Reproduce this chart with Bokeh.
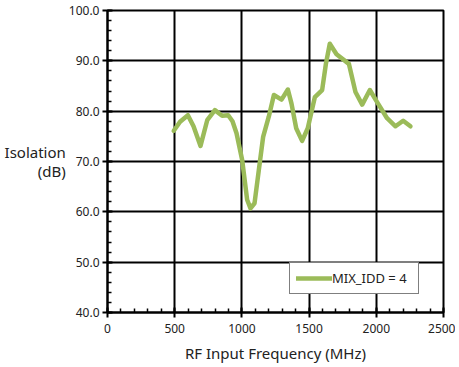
from bokeh.plotting import figure
from bokeh.models import Range1d, FixedTicker, NumeralTickFormatter, Legend, LegendItem
from bokeh.embed import file_html
from bokeh.resources import INLINE

freq = [493, 540, 598, 640, 692, 742, 799, 853, 898, 930, 960, 1002, 1039, 1064, 1094,
        1126, 1158, 1200, 1238, 1295, 1342, 1369, 1404, 1448, 1490, 1543, 1597, 1625,
        1654, 1704, 1796, 1845, 1895, 1952, 2006, 2080, 2143, 2200, 2254]
isolation = [76.1, 77.9, 79.2, 77.0, 73.1, 78.2, 80.2, 79.1, 79.2, 78.0, 75.6, 70.3, 62.4,
             60.7, 61.7, 68.3, 74.9, 78.9, 83.2, 82.3, 84.3, 81.5, 76.6, 74.1, 76.6, 82.8,
             84.2, 89.4, 93.4, 91.3, 89.4, 83.8, 81.3, 84.2, 81.8, 78.6, 77.0, 78.1, 77.0]
x_ticks = [0, 500, 1000, 1500, 2000, 2500]
y_ticks = [40, 50, 60, 70, 80, 90, 100]
series_name = "MIX_IDD = 4"

FONT = "Noto Sans"
p = figure(width=455, height=365, output_backend="svg", toolbar_location=None,
           x_range=Range1d(0, 2500), y_range=Range1d(40, 100),
           min_border_left=107, min_border_right=12, min_border_top=10, min_border_bottom=52)
p.background_fill_color = "white"
p.border_fill_color = "white"
p.outline_line_color = "black"
p.outline_line_width = 2

for ax in (p.xaxis[0], p.yaxis[0]):
    ax.axis_line_color = "black"
    ax.axis_line_width = 2
    ax.major_tick_line_color = "black"
    ax.major_tick_line_width = 2
    ax.minor_tick_line_color = "black"
    ax.minor_tick_line_width = 1.5
    ax.major_tick_in = 5
    ax.major_tick_out = 5
    ax.minor_tick_in = 4
    ax.minor_tick_out = 0
    ax.major_label_text_font = FONT
    ax.major_label_text_font_size = "12px"
    ax.major_label_text_color = "#222222"

p.xaxis.ticker = FixedTicker(ticks=x_ticks, minor_ticks=list(range(0, 2501, 100)))
p.yaxis.ticker = FixedTicker(ticks=y_ticks, minor_ticks=list(range(40, 101, 2)))
p.yaxis.formatter = NumeralTickFormatter(format="0.0")
p.xaxis.axis_label = "RF Input Frequency (MHz)"
p.xaxis.axis_label_text_font = FONT
p.xaxis.axis_label_text_font_style = "normal"
p.xaxis.axis_label_text_font_size = "15px"
p.xaxis.axis_label_text_color = "#222222"
p.xaxis.axis_label_standoff = 7
p.xaxis.major_label_standoff = 6

p.yaxis.axis_label = "Isolation\n(dB)"
p.yaxis.axis_label_orientation = "horizontal"
p.yaxis.axis_label_text_align = "center"
p.yaxis.axis_label_text_font = FONT
p.yaxis.axis_label_text_font_style = "normal"
p.yaxis.axis_label_text_font_size = "15px"
p.yaxis.axis_label_text_line_height = 0.95
p.yaxis.axis_label_text_color = "#222222"
p.yaxis.axis_label_standoff = 0
p.yaxis.major_label_standoff = 3

p.xgrid.grid_line_color = "black"
p.xgrid.grid_line_width = 2
p.ygrid.grid_line_color = "black"
p.ygrid.grid_line_width = 2

r = p.line(freq, isolation, line_color="#9BBB59", line_width=4.5, line_join="round", line_cap="round")

legend = Legend(items=[LegendItem(label=series_name, renderers=[r])], location=(182, 18),
                border_line_color="black", border_line_width=1, label_text_font=FONT,
                label_text_font_size="13px", label_text_color="#222222", glyph_width=36,
                glyph_height=14, label_height=14, padding=6, margin=0, label_standoff=0,
                label_width=80, background_fill_alpha=1)
p.add_layout(legend)

open("out.html", "w").write(file_html(p, INLINE))
